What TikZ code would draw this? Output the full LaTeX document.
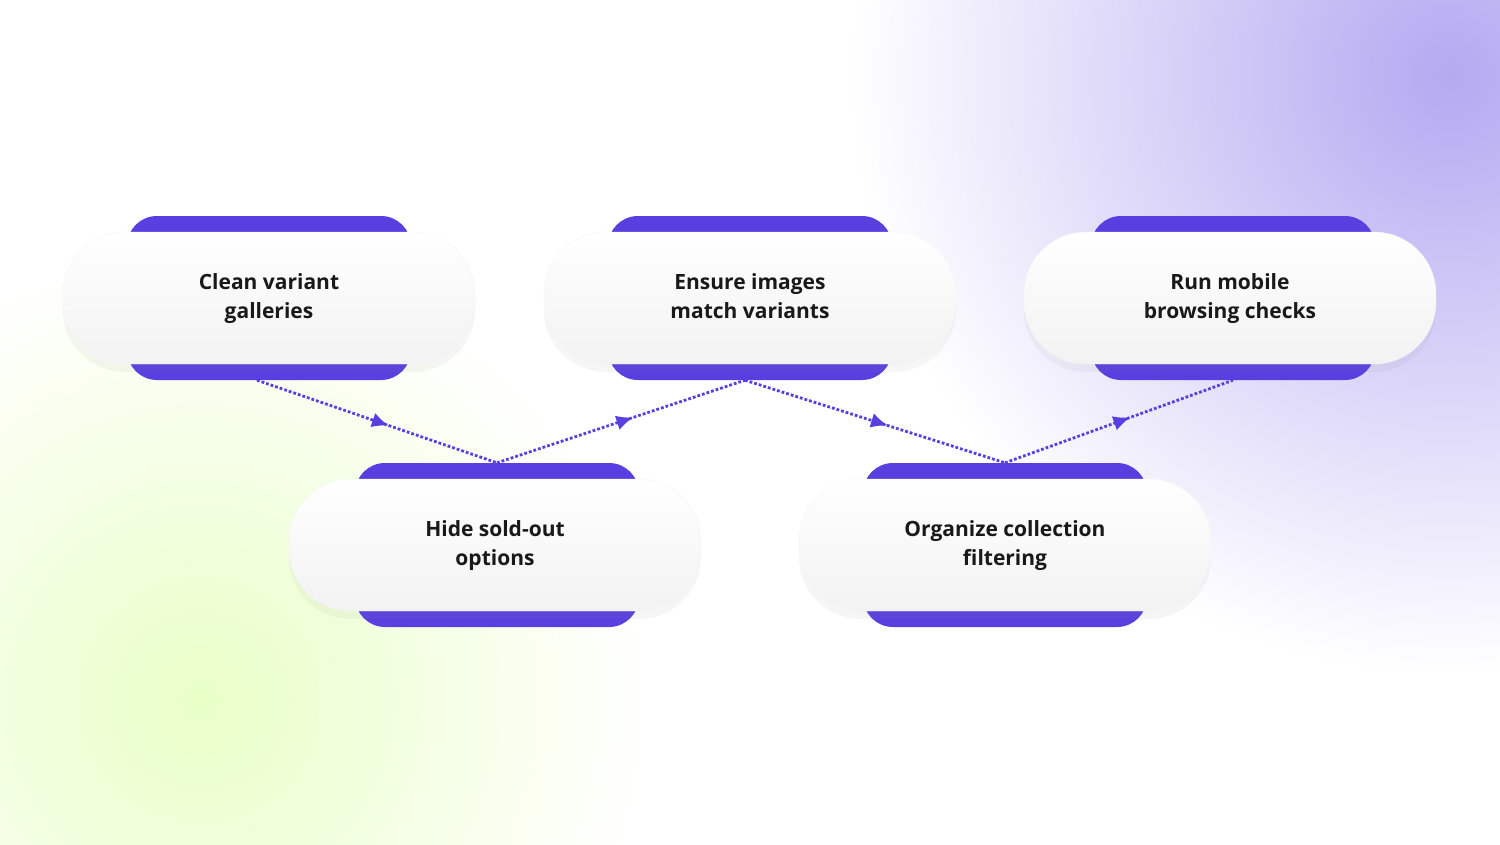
\documentclass[tikz,border=0pt]{standalone}
\usepackage{fontspec}
\setmainfont{Open Sans}
\usetikzlibrary{positioning,shadows,decorations.markings,arrows.meta}
\definecolor{violet}{HTML}{5A3FE0}
\tikzset{
  pill/.style={rounded corners=62pt, minimum width=412pt, minimum height=132pt,
    top color=white, bottom color=gray!10, draw=gray!8,
    drop shadow={opacity=0.07, shadow xshift=0pt, shadow yshift=-8pt},
    align=center, font=\fontsize{21}{29}\selectfont\bfseries, text=black!90,
    text depth=4pt},
  bar/.style={rounded corners=30pt, fill=violet, minimum width=284pt, minimum height=164pt},
  link/.style={violet, line width=2.8pt, dotted,
    postaction={decorate, decoration={markings,
      mark=at position 0.55 with {\arrow[solid]{Latex[length=17pt,width=15pt]}}}}}
}
\begin{document}
\begin{tikzpicture}[x=1pt,y=-1pt]
	% background
	\fill[white] (0,0) rectangle (1500,844);
	\begin{scope}
	\clip (0,0) rectangle (1500,844);
	\shade[inner color=violet!45, outer color=white] (1450,75) circle (600);
	\shade[inner color=green!40!yellow!22, outer color=white] (200,700) circle (450);
	\end{scope}
	\useasboundingbox (0,0) rectangle (1500,844);

	% Bars behind pills
	\node [bar] (b1) at (269,298) {};
	\node [bar] (b2) at (750,298) {};
	\node [bar] (b3) at (1233,298) {};
	\node [bar] (b4) at (497,545) {};
	\node [bar] (b5) at (1005,545) {};

	% Pills
	\node [pill] (p1) at (269,298) {Clean variant\\galleries};
	\node [pill] (p2) at (750,298) {Ensure images\\match variants};
	\node [pill] (p3) at (1230,298) {Run mobile\\browsing checks};
	\node [pill] (p4) at (495,545) {Hide sold-out\\options};
	\node [pill] (p5) at (1005,545) {Organize collection\\filtering};

	% Links
	\draw [link] ([xshift=-12pt]b1.south) -- (b4.north);
	\draw [link] (b4.north) -- ([xshift=-5pt]b2.south);
	\draw [link] ([xshift=-5pt]b2.south) -- (b5.north);
	\draw [link] (b5.north) -- (b3.south);
\end{tikzpicture}
\end{document}
